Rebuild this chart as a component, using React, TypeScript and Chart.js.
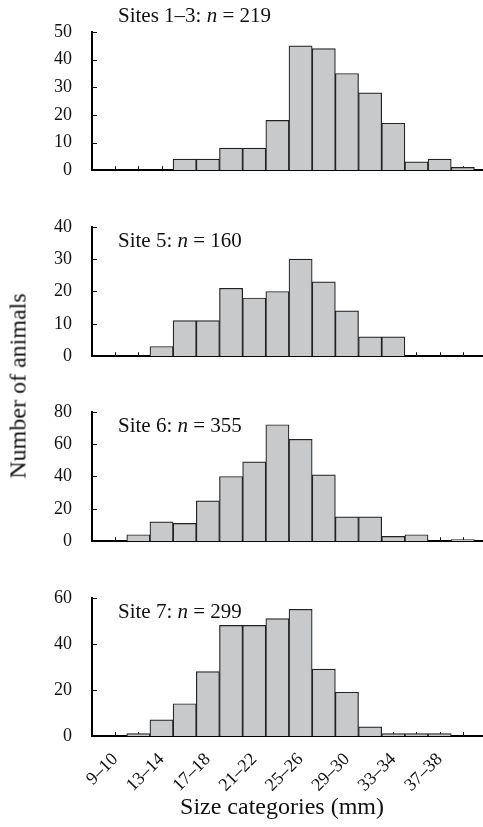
import React, { useEffect, useRef } from "react";
import { Chart, registerables } from "chart.js";

Chart.register(...registerables);

// ---- data ----
const sizeCategories = [
  "9–10", "11–12", "13–14", "15–16", "17–18", "19–20", "21–22", "23–24",
  "25–26", "27–28", "29–30", "31–32", "33–34", "35–36", "37–38", "39–40",
];
const sites13Counts = [0, 0, 0, 4, 4, 8, 8, 18, 45, 44, 35, 28, 17, 3, 4, 1];
const site5Counts = [0, 0, 3, 11, 11, 21, 18, 20, 30, 23, 14, 6, 6, 0, 0, 0];
const site6Counts = [0, 4, 12, 11, 25, 40, 49, 72, 63, 41, 15, 15, 3, 4, 0, 1];
const site7Counts = [0, 1, 7, 14, 28, 48, 48, 51, 55, 29, 19, 4, 1, 1, 1, 0];

const panelNames = ["Sites 1–3", "Site 5", "Site 6", "Site 7"];
const panelN = [219, 160, 355, 299];
const panelYMax = [50, 40, 80, 60];
const panelYStep = [10, 10, 20, 20];

const yTitle = "Number of animals";
const xTitle = "Size categories (mm)";

// ---- style ----
const FONT = '"Liberation Serif", "Times New Roman", serif';
const LEFT = 92;
const CANVAS_W = 486;
const PLOT_H = 147;
const PLOT_TOPS = [32, 218, 403, 589];

type PanelProps = {
  name: string;
  n: number;
  values: number[];
  yMax: number;
  yStep: number;
  plotTop: number;
  padTop: number;
  labelOffset: number;
  bottomAxis: boolean;
};

function Panel(props: PanelProps) {
  const { name, n, values, yMax, yStep, plotTop, padTop, labelOffset, bottomAxis } = props;
  const ref = useRef<HTMLCanvasElement | null>(null);
  const xAxisH = bottomAxis ? 90 : 0;
  const padBottom = bottomAxis ? 0 : 14;
  const height = padTop + PLOT_H + xAxisH + padBottom;

  useEffect(() => {
    if (!ref.current) return;
    const labels = ["", ...sizeCategories, ""];
    const data = [null, ...values.map((v) => (v === 0 ? null : v)), null];

    const innerTicks = {
      id: "innerTicks",
      beforeDatasetsDraw(chart: any) {
        const { ctx, chartArea, scales } = chart;
        const x = scales.x;
        const y = scales.y;
        ctx.save();
        ctx.strokeStyle = "#111";
        ctx.lineWidth = 1;
        ctx.beginPath();
        for (let i = 1; i <= sizeCategories.length; i++) {
          const px = Math.round(x.getPixelForValue(i)) + 0.5;
          ctx.moveTo(px, chartArea.bottom);
          ctx.lineTo(px, chartArea.bottom - 4);
        }
        y.ticks.forEach((t: any) => {
          if (t.value === 0) return;
          const py = Math.round(y.getPixelForValue(t.value)) + 0.5;
          ctx.moveTo(chartArea.left, py);
          ctx.lineTo(chartArea.left + 5, py);
        });
        ctx.stroke();
        ctx.restore();
      },
    };

    const panelLabel = {
      id: "panelLabel",
      afterDraw(chart: any) {
        const { ctx, chartArea } = chart;
        const baseY = chartArea.top + labelOffset;
        let px = 118;
        ctx.save();
        ctx.fillStyle = "#111";
        ctx.textBaseline = "alphabetic";
        ctx.textAlign = "left";
        const parts: [string, string][] = [
          [name + ": ", "normal"],
          ["n", "italic"],
          [" = " + n, "normal"],
        ];
        parts.forEach(([txt, style]) => {
          ctx.font = `${style} 21px ${FONT}`;
          ctx.fillText(txt, px, baseY);
          px += ctx.measureText(txt).width;
        });
        ctx.restore();
      },
    };

    const chart = new Chart(ref.current, {
      type: "bar",
      data: {
        labels,
        datasets: [
          {
            data,
            backgroundColor: "#c8c9cb",
            borderColor: "#222",
            borderWidth: 1.2,
            barPercentage: 1,
            categoryPercentage: 1,
          } as any,
        ],
      },
      options: {
        responsive: false,
        animation: false,
        layout: { padding: { top: padTop, bottom: padBottom, left: 0, right: 0 } },
        plugins: {
          legend: { display: false },
          tooltip: { enabled: false },
          title: { display: false },
        },
        scales: {
          x: {
            type: "category",
            offset: false,
            grid: { display: false },
            border: { display: true, color: "#000", width: 2 },
            ticks: {
              display: bottomAxis,
              autoSkip: false,
              minRotation: 45,
              maxRotation: 45,
              padding: 5,
              color: "#111",
              font: { family: FONT, size: 18 },
              callback: (_v: any, i: number) =>
                i % 2 === 1 && i < sizeCategories.length ? labels[i] : "",
            },
            afterFit: (s: any) => {
              s.height = xAxisH;
              s.paddingLeft = 0;
              s.paddingRight = 0;
            },
          },
          y: {
            min: 0,
            max: yMax,
            grid: { display: false },
            border: { display: true, color: "#000", width: 2 },
            ticks: {
              stepSize: yStep,
              padding: 12,
              color: "#111",
              font: { family: FONT, size: 18 },
            },
            afterFit: (s: any) => {
              s.width = LEFT;
            },
          },
        },
      } as any,
      plugins: [innerTicks, panelLabel],
    });
    return () => chart.destroy();
  }, []);

  return (
    <canvas
      ref={ref}
      width={CANVAS_W}
      height={height}
      style={{ position: "absolute", left: 0, top: plotTop - padTop }}
    />
  );
}

export default function App() {
  const series = [sites13Counts, site5Counts, site6Counts, site7Counts];
  return (
    <div
      style={{
        position: "absolute",
        left: 0,
        top: 0,
        width: 483,
        height: 827,
        overflow: "hidden",
        background: "#fff",
      }}
    >
      {series.map((vals, i) => (
        <Panel
          key={i}
          name={panelNames[i]}
          n={panelN[i]}
          values={vals}
          yMax={panelYMax[i]}
          yStep={panelYStep[i]}
          plotTop={PLOT_TOPS[i]}
          padTop={i === 0 ? 32 : 14}
          labelOffset={i === 0 ? -10 : 20}
          bottomAxis={i === 3}
        />
      ))}
      <div
        style={{
          position: "absolute",
          left: 18,
          top: 386,
          transform: "translate(-50%, -50%) rotate(-90deg)",
          whiteSpace: "nowrap",
          fontFamily: FONT,
          fontSize: 24,
          color: "#111",
        }}
      >
        {yTitle}
      </div>
      <div
        style={{
          position: "absolute",
          left: 282,
          top: 806,
          transform: "translate(-50%, -50%)",
          whiteSpace: "nowrap",
          fontFamily: FONT,
          fontSize: 24,
          color: "#111",
        }}
      >
        {xTitle}
      </div>
    </div>
  );
}
